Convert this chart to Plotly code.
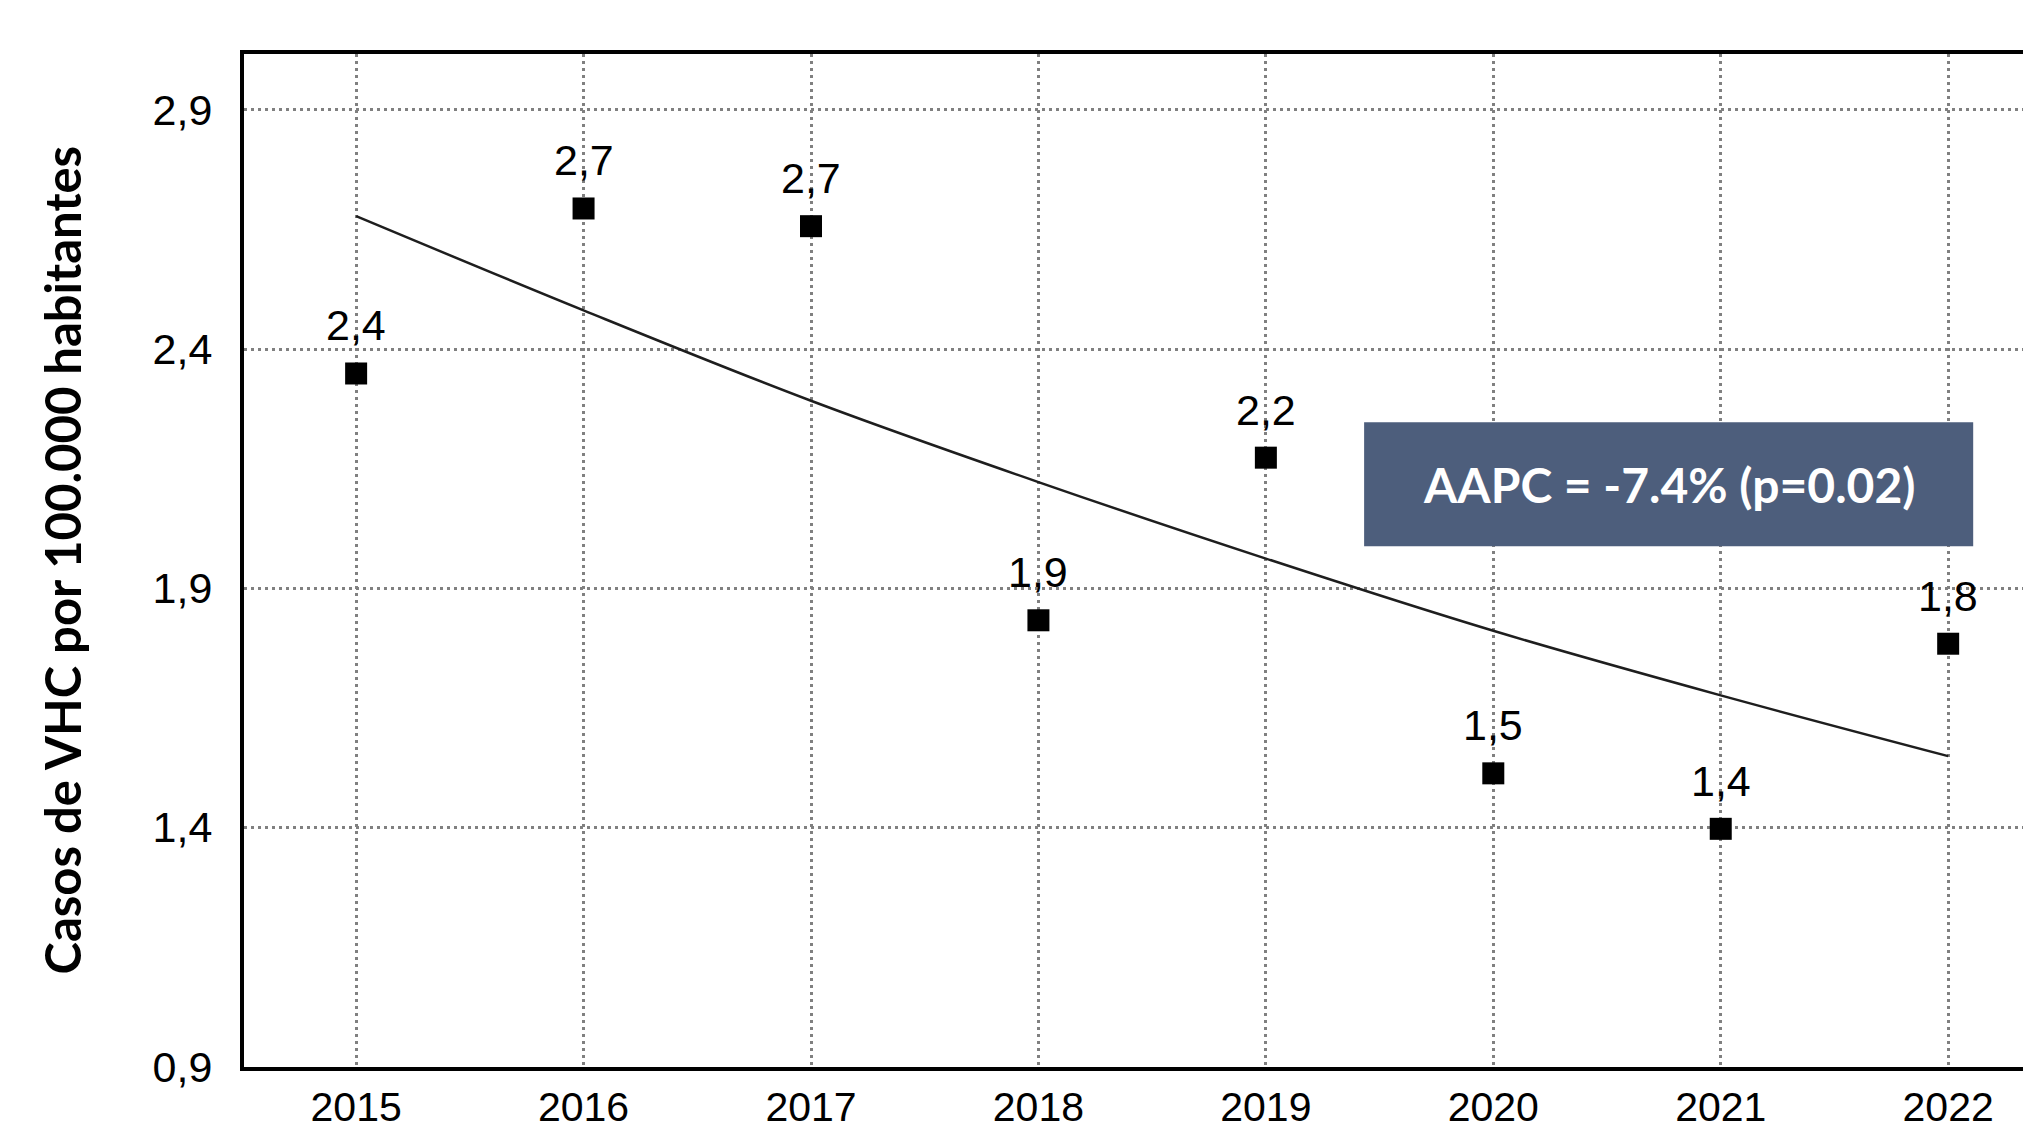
import plotly.graph_objects as go

years = [2015, 2016, 2017, 2018, 2019, 2020, 2021, 2022]
rates = [2.349, 2.694, 2.657, 1.833, 2.173, 1.513, 1.397, 1.784]
rate_labels = ["2,4", "2,7", "2,7", "1,9", "2,2", "1,5", "1,4", "1,8"]
trend = [2.678, 2.481, 2.292, 2.122, 1.962, 1.811, 1.676, 1.549]
y_tickvals = [0.9, 1.4, 1.9, 2.4, 2.9]
y_ticktext = ["0,9", "1,4", "1,9", "2,4", "2,9"]
y_title = "Casos de VHC por 100.000 habitantes"
aapc_text = "AAPC = -7.4% (p=0.02)"

REG = "Liberation Sans, Arial, sans-serif"
BOLD = "Lato, Open Sans, sans-serif"

W, H = 2015, 1124
ML, MR, MT, MB = 236, 0, 46, 65
PW = W - ML - MR

fig = go.Figure()

fig.add_trace(go.Scatter(
    x=years, y=trend, mode="lines", line_shape="spline",
    line=dict(color="#1e1e1e", width=2.5), hoverinfo="skip", showlegend=False,
))
fig.add_trace(go.Scatter(
    x=years, y=rates, mode="markers",
    marker=dict(symbol="square", size=22, color="black", line=dict(width=0)),
    showlegend=False,
))

for x, y, t in zip(years, rates, rate_labels):
    fig.add_annotation(x=x, y=y, text=t, showarrow=False, yshift=48,
                       xanchor="center", yanchor="middle",
                       font=dict(family=REG, size=43, color="black"))

# AAPC box
bx0, bx1, by0, by1 = 2019.432, 2022.11, 1.988, 2.247
fig.add_shape(type="rect", xref="x", yref="y", x0=bx0, x1=bx1,
              y0=by0, y1=by1, fillcolor="#4d5e7c", line=dict(width=0),
              layer="above")
fig.add_annotation(x=(bx0 + bx1) / 2, y=(by0 + by1) / 2,
                   text="<b>" + aapc_text + "</b>", showarrow=False,
                   xanchor="center", yanchor="middle",
                   font=dict(family=BOLD, size=48, color="white"))

# Y-axis title as rotated annotation
fig.add_annotation(xref="paper", yref="paper", x=(53 - ML) / PW, y=0.5,
                   text="<b>" + y_title + "</b>", textangle=-90,
                   showarrow=False, xanchor="center", yanchor="middle",
                   font=dict(family=BOLD, size=49, color="black"))

grid = dict(showgrid=True, gridcolor="#808080", gridwidth=3, griddash="3px,4px")

fig.update_xaxes(
    range=[2014.507, 2022.329], tickvals=years, ticktext=[str(y) for y in years],
    tickfont=dict(family=REG, size=41, color="black"),
    ticks="outside", ticklen=1, tickcolor="rgba(0,0,0,0)",
    showline=True, linecolor="black", linewidth=4, mirror=True,
    zeroline=False, automargin=False, **grid,
)
fig.update_yaxes(
    range=[0.899, 3.017], tickvals=y_tickvals, ticktext=y_ticktext,
    tickfont=dict(family=REG, size=43, color="black"),
    ticks="outside", ticklen=19, tickcolor="rgba(0,0,0,0)",
    showline=True, linecolor="black", linewidth=4, mirror=False,
    zeroline=False, automargin=False, **grid,
)

fig.update_layout(
    width=W, height=H,
    margin=dict(l=ML, r=MR, t=MT, b=MB, pad=0, autoexpand=False),
    paper_bgcolor="white", plot_bgcolor="white",
    showlegend=False,
)

fig.write_html("out.html")
